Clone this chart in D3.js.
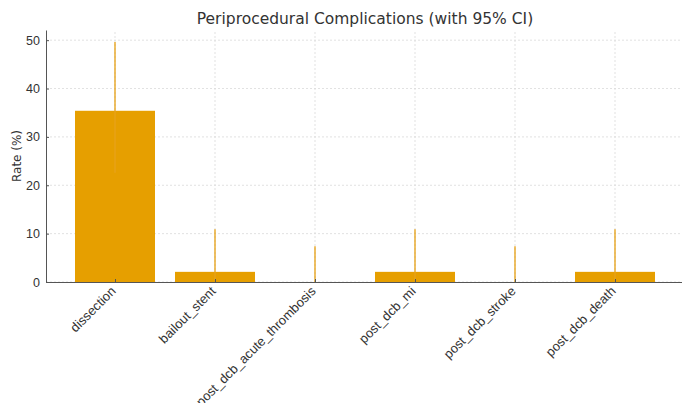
<!DOCTYPE html>
<html>
<head>
<meta charset="utf-8">
<script src="https://cdn.jsdelivr.net/npm/d3@7"></script>
<style>
  body { margin: 0; background: #fff; }
  svg { font-family: "DejaVu Sans", sans-serif; }
</style>
</head>
<body>
<div id="chart"></div>
<script>
// Data
const categories = ["dissection", "bailout_stent", "post_dcb_acute_thrombosis", "post_dcb_mi", "post_dcb_stroke", "post_dcb_death"];
const rates = [35.4, 2.1, 0, 2.1, 0, 2.1];
const ciLower = [22.6, 0.4, 0, 0.4, 0, 0.4];
const ciUpper = [49.6, 10.9, 7.4, 10.9, 7.4, 10.9];
const yTicks = [0, 10, 20, 30, 40, 50];

const width = 682, height = 403;
const margin = { left: 46, top: 30, bottom: 121 };
const plotRight = 684;

const svg = d3.select("#chart").append("svg")
    .attr("width", width)
    .attr("height", height);

// x in category units, like matplotlib's bar positions
const x = d3.scaleLinear()
    .domain([-0.69, categories.length - 1 + 0.69])
    .range([margin.left, plotRight]);

const y = d3.scaleLinear()
    .domain([0, 52.1])
    .range([height - margin.bottom, margin.top]);

const barColor = "#E69F00";

// Grid lines
const grid = svg.append("g");
grid.selectAll(".hgrid")
    .data(yTicks)
    .enter()
    .append("line")
    .attr("x1", margin.left)
    .attr("x2", plotRight)
    .attr("y1", d => y(d))
    .attr("y2", d => y(d))
    .attr("stroke", "#d9d9d9")
    .attr("stroke-width", 0.8)
    .attr("stroke-dasharray", "2,2");

grid.selectAll(".vgrid")
    .data(categories)
    .enter()
    .append("line")
    .attr("x1", (d, i) => x(i))
    .attr("x2", (d, i) => x(i))
    .attr("y1", y.range()[0])
    .attr("y2", y.range()[1])
    .attr("stroke", "#d9d9d9")
    .attr("stroke-width", 0.8)
    .attr("stroke-dasharray", "2,2");

// Bars
const barW = x(0.8) - x(0);
svg.append("g")
    .selectAll("rect")
    .data(rates)
    .enter()
    .append("rect")
    .attr("x", (d, i) => x(i) - barW / 2)
    .attr("width", barW)
    .attr("y", d => y(d))
    .attr("height", d => y(0) - y(d))
    .attr("fill", barColor);

// Error bars (no caps)
svg.append("g")
    .selectAll("line")
    .data(categories)
    .enter()
    .append("line")
    .attr("x1", (d, i) => x(i))
    .attr("x2", (d, i) => x(i))
    .attr("y1", (d, i) => y(ciLower[i]))
    .attr("y2", (d, i) => y(ciUpper[i]))
    .attr("stroke", "#E6A21A")
    .attr("stroke-opacity", 0.85)
    .attr("stroke-width", 1.6);

// Axes
const xAxis = svg.append("g")
    .attr("transform", `translate(0,${y(0)})`)
    .call(d3.axisBottom(x)
        .tickValues(d3.range(categories.length))
        .tickFormat(i => categories[i])
        .tickSize(-3)
        .tickSizeOuter(0));

xAxis.select(".domain").attr("stroke", "#555").attr("stroke-width", 1);
xAxis.selectAll(".tick line").attr("stroke", "#555");
xAxis.selectAll("text")
    .attr("text-anchor", "end")
    .attr("dy", null)
    .attr("y", 0)
    .attr("transform", "translate(1,10) rotate(-45)")
    .style("font-size", "13px")
    .style("fill", "#333");

const yAxis = svg.append("g")
    .attr("transform", `translate(${margin.left},0)`)
    .call(d3.axisLeft(y)
        .tickValues(yTicks)
        .tickSize(-3)
        .tickPadding(6)
        .tickSizeOuter(0));

yAxis.select(".domain").attr("stroke", "#555").attr("stroke-width", 1);
yAxis.selectAll(".tick line").attr("stroke", "#555");
yAxis.selectAll("text")
    .style("font-size", "12.5px")
    .style("fill", "#333");

// Y label
svg.append("text")
    .attr("transform", `translate(21,${(y(0) + y(52.1)) / 2}) rotate(-90)`)
    .attr("text-anchor", "middle")
    .style("font-size", "12px")
    .style("fill", "#333")
    .text("Rate (%)");

// Title
svg.append("text")
    .attr("x", 365)
    .attr("y", 24)
    .attr("text-anchor", "middle")
    .style("font-size", "15.5px")
    .style("fill", "#333")
    .text("Periprocedural Complications (with 95% CI)");
</script>
</body>
</html>
